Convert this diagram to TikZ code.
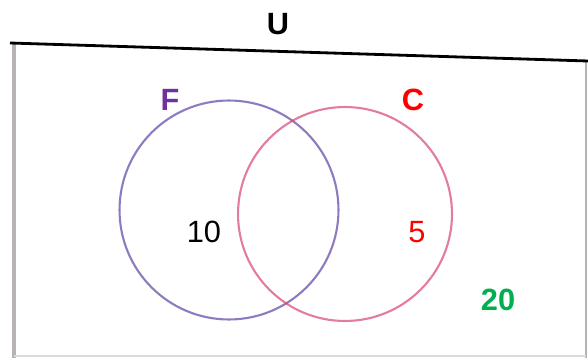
\documentclass[tikz,border=0pt]{standalone}
\usepackage{fontspec}
\setmainfont{Liberation Sans}
\usepackage{tikz}
\usetikzlibrary{positioning}
\usepackage{xcolor}
\definecolor{fpurple}{RGB}{112,48,160}
\definecolor{cred}{RGB}{255,0,0}
\definecolor{ngreen}{RGB}{0,176,80}
\definecolor{penF}{RGB}{105,80,170}
\definecolor{penC}{RGB}{215,70,115}
\definecolor{edgegray}{RGB}{185,178,178}

\begin{document}
\begin{tikzpicture}[
  x=0.02cm, y=-0.02cm,
  setF/.style={circle, draw=penF, line width=1.2pt, draw opacity=0.75, minimum size=4.38cm, inner sep=0pt},
  setC/.style={circle, draw=penC, line width=1.2pt, draw opacity=0.7, minimum size=4.28cm, inner sep=0pt},
  lbl/.style={font=\fontsize{17.5}{20}\selectfont\bfseries},
  num/.style={font=\fontsize{17.5}{20}\selectfont}
]
\useasboundingbox (0,0) rectangle (588,358);
\fill[white] (0,0) rectangle (588,358);

% the page
\draw[edgegray, line width=2pt] (14,44) -- (14,358);
\draw[edgegray, line width=1.5pt] (586,61) -- (586,358);
\draw[edgegray!50, line width=1pt] (14,356) -- (586,356);
\draw[black, line width=1.6pt] (10,43) -- (588,61);

\node[lbl] (U) at (278,24) {U};

\node[setF] (F) at (229,210) {};
\node[setC] (C) at (345,214) {};

\node[lbl, text=fpurple] (Flbl) at (170,100) {F};
\node[lbl, text=cred] (Clbl) at (413,100) {C};

\node[num] (onlyF) at (204,232) {10};
\node[num, text=cred] (onlyC) at (417,232) {5};
\node[lbl, text=ngreen] (outside) at (498,300) {20};
\end{tikzpicture}
\end{document}
